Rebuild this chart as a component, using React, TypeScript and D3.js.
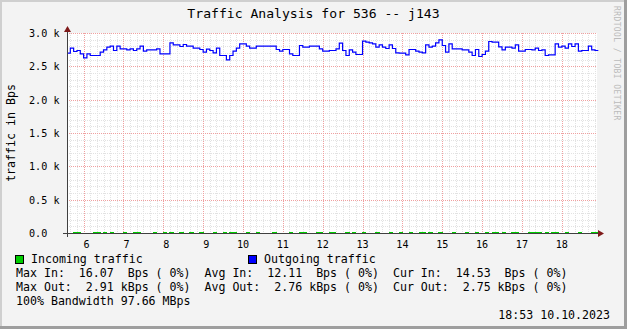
import React from "react";
import * as d3 from "d3";

// ---- data (5-minute steps starting 05:35) ----
const startTime = "05:35";
const endTime = "18:53";
const stepMinutes = 5;

const outgoingBps = [
  2705, 2780, 2730, 2745, 2695, 2635, 2695, 2670, 2670, 2670,
  2720, 2755, 2795, 2810, 2745, 2810, 2770, 2770, 2755, 2770,
  2745, 2770, 2810, 2735, 2755, 2755, 2755, 2770, 2695, 2695,
  2695, 2860, 2830, 2830, 2805, 2835, 2810, 2810, 2780, 2780,
  2760, 2720, 2765, 2745, 2710, 2780, 2670, 2670, 2605, 2670,
  2735, 2780, 2845, 2845, 2810, 2780, 2780, 2810, 2810, 2810,
  2810, 2810, 2810, 2760, 2735, 2760, 2760, 2695, 2670, 2670,
  2820, 2795, 2795, 2810, 2810, 2810, 2770, 2735, 2735, 2745,
  2745, 2770, 2855, 2745, 2670, 2755, 2720, 2685, 2685, 2885,
  2870, 2860, 2845, 2795, 2830, 2795, 2775, 2830, 2775, 2710,
  2705, 2705, 2680, 2760, 2760, 2735, 2720, 2710, 2830, 2795,
  2810, 2860, 2905, 2820, 2720, 2845, 2770, 2770, 2770, 2755,
  2755, 2720, 2670, 2760, 2655, 2685, 2735, 2880, 2870, 2870,
  2800, 2755, 2795, 2795, 2780, 2830, 2735, 2735, 2760, 2760,
  2755, 2780, 2745, 2755, 2670, 2680, 2680, 2845, 2795, 2810,
  2780, 2845, 2805, 2845, 2735, 2745, 2745, 2810, 2755, 2745,
];

const incomingBps = [
  6.2, 5.8, 15.1, 14.6, 6.4, 5.9, 6.8, 6.1, 15.4, 14.9,
  6.5, 14.2, 6.3, 15.0, 5.7, 6.0, 6.6, 14.8, 6.2, 5.9,
  15.3, 14.5, 6.1, 6.7, 5.8, 6.4, 14.9, 6.0, 6.3, 15.2,
  6.5, 14.7, 6.2, 5.9, 15.0, 6.1, 6.6, 14.4, 6.0, 6.3,
  15.6, 6.2, 5.8, 6.5, 14.8, 6.1, 6.4, 14.3, 6.0, 15.1,
  14.9, 6.2, 5.7, 6.6, 14.6, 6.3, 6.0, 15.2, 6.1, 5.9,
  6.4, 6.2, 14.7, 6.0, 5.8, 6.5, 6.3, 15.0, 6.1, 6.6,
  14.8, 15.3, 6.2, 5.9, 6.4, 14.5, 15.1, 6.0, 6.3, 14.9,
  15.4, 6.1, 5.8, 6.5, 14.6, 6.2, 15.0, 6.0, 6.4, 14.2,
  6.3, 5.9, 6.1, 14.8, 6.6, 6.0, 6.2, 15.1, 5.8, 6.4,
  14.7, 6.1, 6.3, 15.2, 6.0, 5.9, 14.9, 16.07, 6.2, 14.4,
  6.5, 6.1, 15.0, 6.3, 5.8, 6.2, 14.6, 6.0, 6.4, 6.1,
  15.3, 6.2, 5.9, 14.8, 6.3, 6.0, 15.1, 6.4, 14.5, 15.0,
  6.1, 14.7, 6.2, 5.8, 15.2, 14.9, 6.3, 6.0, 6.5, 14.6,
  15.4, 15.0, 14.8, 6.1, 14.3, 6.2, 15.1, 14.7, 6.0, 6.4,
  14.9, 6.2, 5.8, 6.3, 15.0, 6.1, 6.0, 6.5, 14.53, 14.53,
];

const yTicks = [0, 500, 1000, 1500, 2000, 2500, 3000];
const yTickLabels = ["0.0", "0.5 k", "1.0 k", "1.5 k", "2.0 k", "2.5 k", "3.0 k"];
const hourTicks = [6, 7, 8, 9, 10, 11, 12, 13, 14, 15, 16, 17, 18];

const title = "Traffic Analysis for 536 -- j143";
const yAxisTitle = "traffic in Bps";
const watermark = "RRDTOOL / TOBI OETIKER";
const legendItems = ["Incoming traffic", "Outgoing traffic"];
const legendColors = ["#00CC00", "#0000FF"];
const statLines = [
  "Max In:  16.07  Bps ( 0%)  Avg In:  12.11  Bps ( 0%)  Cur In:  14.53  Bps ( 0%)",
  "Max Out:  2.91 kBps ( 0%)  Avg Out:  2.76 kBps ( 0%)  Cur Out:  2.75 kBps ( 0%)",
  "100% Bandwidth 97.66 MBps",
];
const timestamp = "18:53 10.10.2023";

const toMin = (s: string) => {
  const [h, m] = s.split(":").map(Number);
  return h * 60 + m;
};

export default function App() {
  const W = 627, H = 329;
  const left = 67, right = 597, top = 33, bottom = 233;
  const t0 = toMin(startTime), t1 = toMin(endTime);
  const x = d3.scaleLinear().domain([t0, t1]).range([left, right]);
  const y = d3.scaleLinear().domain([0, 3000]).range([bottom + 0.5, top + 0.5]);
  const mono = "'DejaVu Sans Mono', monospace";

  const mkPts = (vals: number[]) => {
    const pts = vals.map((v, i) => [t0 + i * stepMinutes, v] as [number, number]);
    pts.push([t0 + vals.length * stepMinutes, vals[vals.length - 1]]);
    return pts;
  };
  const line = d3.line<[number, number]>().x(d => x(d[0])).y(d => y(d[1])).curve(d3.curveStepAfter);

  // grid
  const minorV: number[] = [];
  for (let m = Math.ceil(t0 / 10) * 10; m <= t1; m += 10) if (m % 60 !== 0) minorV.push(m);
  const minorH = d3.range(0, 3001, 100).filter(v => v % 500 !== 0);

  const minorColor = "#E2E2E2";
  const majorColor = "#F0A0A0";
  const arrowColor = "#7F1A1A";

  return (
    <svg width={W} height={H} style={{ position: "fixed", left: 0, top: 0 }} fontFamily={mono}>
      <rect x={0} y={0} width={W} height={H} fill="#F3F3F3" />
      {/* shade borders */}
      <rect x={0} y={0} width={W} height={2} fill="#CFCFCF" />
      <rect x={0} y={0} width={2} height={H} fill="#CFCFCF" />
      <rect x={0} y={H - 3} width={W} height={3} fill="#9E9E9E" />
      <rect x={W - 3} y={0} width={3} height={H} fill="#9E9E9E" />
      {/* canvas */}
      <rect x={left} y={top} width={right - left} height={bottom - top} fill="#FFFFFF" />
      <g shapeRendering="crispEdges" strokeDasharray="1,1" strokeWidth={1}>
        {minorV.map(m => (
          <line key={"mv" + m} x1={Math.round(x(m)) + 0.5} x2={Math.round(x(m)) + 0.5} y1={top} y2={bottom} stroke={minorColor} />
        ))}
        {minorH.map(v => (
          <line key={"mh" + v} x1={left} x2={right} y1={Math.round(y(v) - 0.5) + 0.5} y2={Math.round(y(v) - 0.5) + 0.5} stroke={minorColor} />
        ))}
        {hourTicks.map(h => (
          <line key={"Mv" + h} x1={Math.round(x(h * 60)) + 0.5} x2={Math.round(x(h * 60)) + 0.5} y1={top} y2={bottom} stroke={majorColor} />
        ))}
        {yTicks.filter(v => v > 0).map(v => (
          <line key={"Mh" + v} x1={left} x2={right} y1={Math.round(y(v) - 0.5) + 0.5} y2={Math.round(y(v) - 0.5) + 0.5} stroke={majorColor} />
        ))}
      </g>
      {/* data */}
      <path d={line(mkPts(incomingBps)) || ""} fill="none" stroke={legendColors[0]} strokeWidth={1} shapeRendering="crispEdges" />
      <path d={line(mkPts(outgoingBps)) || ""} fill="none" stroke={legendColors[1]} strokeWidth={1.2} />
      {/* axes */}
      <g shapeRendering="crispEdges">
        <line x1={left - 4} x2={right + 3} y1={bottom + 0.5} y2={bottom + 0.5} stroke="#404040" />
        <line x1={left + 0.5} x2={left + 0.5} y1={bottom + 4} y2={top - 4} stroke="#404040" />
      </g>
      <path d={`M${right + 1},${bottom - 3}L${right + 7},${bottom + 0.5}L${right + 1},${bottom + 4}Z`} fill={arrowColor} />
      <path d={`M${left - 3},${top - 1}L${left + 0.5},${top - 7}L${left + 4},${top - 1}Z`} fill={arrowColor} />
      {/* y tick labels (left aligned like rrdtool's padded format) */}
      {yTicks.map((v, i) => (
        <text key={"yl" + v} x={29} y={y(v)} dy="0.35em" textAnchor="start" fontSize={10.15} fill="#000">{yTickLabels[i]}</text>
      ))}
      {/* x tick labels (%k style, space padded) */}
      {hourTicks.map(h => (
        <text key={"xl" + h} x={x(h * 60)} y={bottom + 15} textAnchor="middle" fontSize={10.15} fill="#000" style={{ whiteSpace: "pre" }}>{h < 10 ? "\u00a0" + h : String(h)}</text>
      ))}
      {/* title */}
      <text x={W / 2} y={18} textAnchor="middle" fontSize={13.1} fill="#000">{title}</text>
      {/* y axis title */}
      <text transform={`translate(15, ${(top + bottom) / 2}) rotate(-90)`} textAnchor="middle" fontSize={11.6} fill="#000">{yAxisTitle}</text>
      {/* watermark */}
      <text transform={`translate(614, 6) rotate(90)`} textAnchor="start" fontSize={8} fill="#BBBBBB" letterSpacing={0.4}>{watermark}</text>
      {/* legend */}
      {legendItems.map((name, i) => {
        const lx = i === 0 ? 15 : 248;
        return (
          <g key={name}>
            <rect x={lx + 0.5} y={255.5} width={8} height={8} fill={legendColors[i]} stroke="#000" strokeWidth={1} shapeRendering="crispEdges" />
            <text x={lx + 16} y={263} fontSize={11.6} fill="#000" style={{ whiteSpace: "pre" }}>{name}</text>
          </g>
        );
      })}
      {statLines.map((s, i) => (
        <text key={"s" + i} x={16} y={277 + i * 14} fontSize={11.6} fill="#000" style={{ whiteSpace: "pre" }}>{s}</text>
      ))}
      <text x={610} y={319} textAnchor="end" fontSize={11.6} fill="#000">{timestamp}</text>
    </svg>
  );
}
